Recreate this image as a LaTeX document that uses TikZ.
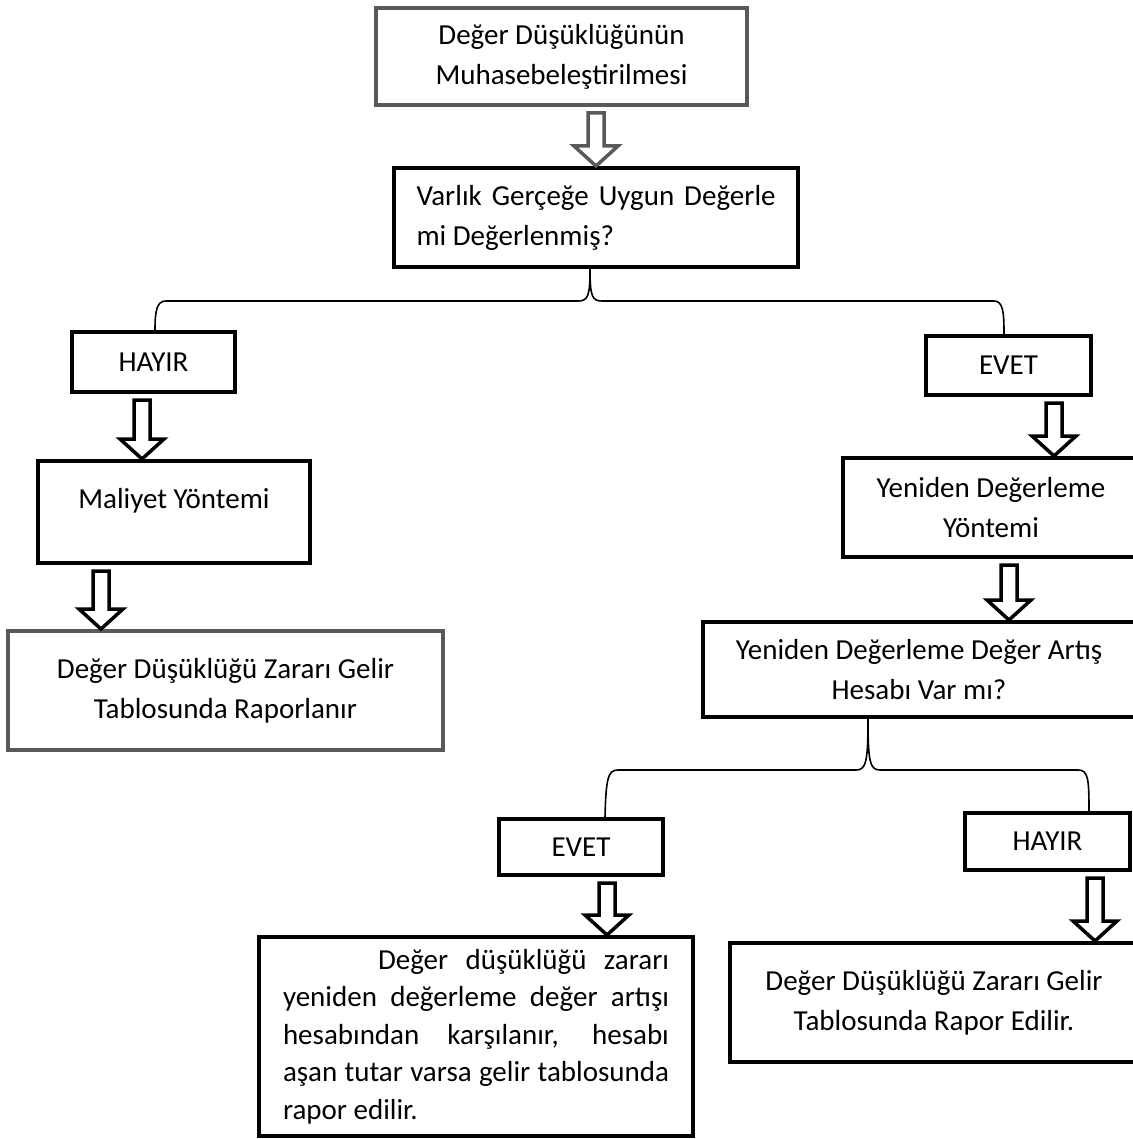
\documentclass[tikz,border=0pt]{standalone}
\usepackage{fontspec}
\setmainfont{Carlito}
\usetikzlibrary{calc}
\definecolor{boxgray}{RGB}{89,89,89}
\hyphenpenalty=10000

\begin{document}
\begin{tikzpicture}[x=1pt,y=1pt,yscale=-1,xscale=1,
	box/.style={draw=black, line width=4pt, rectangle, inner sep=0pt, align=center, font=\fontsize{29}{40}\selectfont},
	graybox/.style={box, draw=boxgray},
	blockarrow/.style={draw=#1, line width=3.5pt, fill=white, to path={
			($(\tikztostart)+(-8,6)$) -- ($(\tikztotarget)+(-8,-20)$) -- ($(\tikztotarget)+(-22,-20)$) -- (\tikztotarget)
			-- ($(\tikztotarget)+(22,-20)$) -- ($(\tikztotarget)+(8,-20)$) -- ($(\tikztostart)+(8,6)$) -- cycle}},
	blockarrow/.default=black,
	brace/.style={draw=black, line width=1.6pt}]
		\useasboundingbox (0,0) rectangle (1132,1139);
		
		%Shape: Rectangle [id:top]
		\node [graybox, minimum width=371pt, minimum height=97pt] (top) at (561.5,56.5) {Değer Düşüklüğünün\\Muhasebeleştirilmesi};
		%Shape: Rectangle [id:varlik]
		\node [box, minimum width=404pt, minimum height=99pt, text width=359pt, align=justify] (varlik) at (596,217.5) {Varlık Gerçeğe Uygun Değerle\linebreak mi Değerlenmiş?};
		
		%Shape: Rectangle [id:hayirA]
		\node [box, minimum width=163pt, minimum height=60pt] (hayirA) at (153.5,362) {HAYIR};
		%Shape: Rectangle [id:maliyet]
		\node [box, minimum width=272pt, minimum height=102pt, text height=22pt, text depth=30pt] (maliyet) at (174,512) {Maliyet Yöntemi};
		%Shape: Rectangle [id:raporA]
		\node [graybox, minimum width=435pt, minimum height=119pt] (raporA) at (225.5,690.5) {Değer Düşüklüğü Zararı Gelir\\Tablosunda Raporlanır};
		
		%Shape: Rectangle [id:evetA]
		\node [box, minimum width=165pt, minimum height=59pt] (evetA) at (1008.5,365.5) {EVET};
		%Shape: Rectangle [id:yontemB]
		\node [box, minimum width=296pt, minimum height=99pt] (yontemB) at (991,507.5) {Yeniden Değerleme\\Yöntemi};
		%Shape: Rectangle [id:artis]
		\node [box, minimum width=432pt, minimum height=95pt] (artis) at (919,669.5) {Yeniden Değerleme Değer Artış\\Hesabı Var mı?};
		
		%Shape: Rectangle [id:evetB]
		\node [box, minimum width=164pt, minimum height=56pt] (evetB) at (581,847) {EVET};
		%Shape: Rectangle [id:karsilanir]
		\node [box, minimum width=434pt, minimum height=199pt, text width=386pt, align=justify, font=\fontsize{29}{37.5}\selectfont] (karsilanir) at (476,1036.5) {\hspace*{95pt}Değer düşüklüğü zararı\linebreak yeniden değerleme değer artışı\linebreak hesabından karşılanır, hesabı\linebreak aşan tutar varsa gelir tablosunda\linebreak rapor edilir.};
		%Shape: Rectangle [id:hayirB]
		\node [box, minimum width=165pt, minimum height=57pt] (hayirB) at (1047.5,841.5) {HAYIR};
		%Shape: Rectangle [id:raporB]
		\node [box, minimum width=408pt, minimum height=119pt] (raporB) at (934,1002.5) {Değer Düşüklüğü Zararı Gelir\\Tablosunda Rapor Edilir.};
		
		%Block arrows
		\draw [blockarrow=boxgray] (top.south -| 596,0) to (varlik.north -| 596,0);
		\draw [blockarrow] (hayirA.south -| 142,0) to (maliyet.north -| 142,0);
		\draw [blockarrow] (maliyet.south -| 101,0) to (raporA.north -| 101,0);
		\draw [blockarrow] (evetA.south -| 1054,0) to (yontemB.north -| 1054,0);
		\draw [blockarrow] (yontemB.south -| 1009,0) to (artis.north -| 1009,0);
		\draw [blockarrow] (evetB.south -| 607,0) to (karsilanir.north -| 607,0);
		\draw [blockarrow] (hayirB.south -| 1095,0) to (raporB.north -| 1095,0);
		
		%Braces
		\draw [brace] (varlik.south -| 590,0) .. controls (590,296) and (588,301) .. (578,301) -- (166,301) .. controls (157,301) and (155,310) .. (hayirA.north -| 155,0);
		\draw [brace] (varlik.south -| 590,0) .. controls (590,296) and (592,301) .. (602,301) -- (994,301) .. controls (1003,301) and (1004,312) .. (evetA.north -| 1004,0);
		\draw [brace] (artis.south -| 868,0) .. controls (868,762) and (866,770) .. (856,770) -- (618,770) .. controls (608,770) and (606,778) .. (evetB.north -| 605,0);
		\draw [brace] (artis.south -| 868,0) .. controls (868,762) and (870,770) .. (880,770) -- (1078,770) .. controls (1088,770) and (1089,778) .. (hayirB.north -| 1089,0);
		
\end{tikzpicture}
\end{document}
